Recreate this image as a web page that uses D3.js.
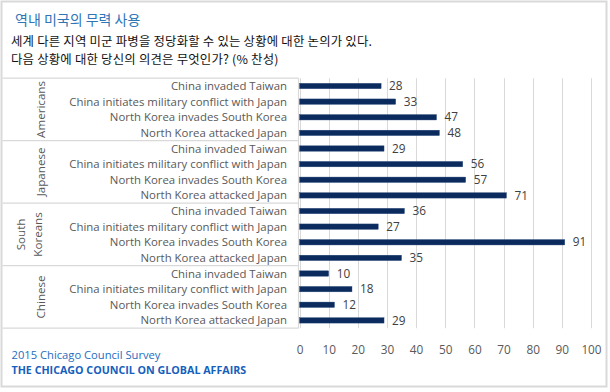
<!DOCTYPE html>
<html><head><meta charset="utf-8">
<script src="https://cdn.jsdelivr.net/npm/d3@7"></script>
<style>
html,body{margin:0;padding:0;background:#fff;}
svg{display:block;}
</style></head>
<body><svg id="c" width="610" height="392"></svg>
<script>
const titleText = "역내 미국의 무력 사용";
const subtitleLines = ["세계 다른 지역 미군 파병을 정당화할 수 있는 상황에 대한 논의가 있다.", "다음 상황에 대한 당신의 의견은 무엇인가? (% 찬성)"];
const groups = ["Americans", "Japanese", "South Koreans", "Chinese"];
const groupLabelLines = [["Americans"], ["Japanese"], ["South", "Koreans"], ["Chinese"]];
const scenarios = ["China invaded Taiwan", "China initiates military conflict with Japan", "North Korea invades South Korea", "North Korea attacked Japan"];
const americans = [28, 33, 47, 48];
const japanese = [29, 56, 57, 71];
const southKoreans = [36, 27, 91, 35];
const chinese = [10, 18, 12, 29];
const tickValues = [0, 10, 20, 30, 40, 50, 60, 70, 80, 90, 100];
const sourceLines = ["2015 Chicago Council Survey", "THE CHICAGO COUNCIL ON GLOBAL AFFAIRS"];

const seriesByGroup = [americans, japanese, southKoreans, chinese];
const rows = [];
groups.forEach((g, gi) => scenarios.forEach((s, si) => rows.push({key: g + "|" + s, group: g, gi, label: s, value: seriesByGroup[gi][si]})));

const svg = d3.select("#c");
const latin = "'Open Sans','Noto Sans',sans-serif";
const kr = "'Noto Sans CJK KR','Noto Sans',sans-serif";

// outer frame
svg.append("rect").attr("x", 1.5).attr("y", 1.5).attr("width", 605).attr("height", 385)
  .attr("fill", "#fff").attr("stroke", "#d9d9d9").attr("stroke-width", 2);

const plotTop = 78.2, plotBottom = 328.2;
const y = d3.scaleBand().domain(rows.map(r => r.key)).range([plotTop, plotBottom]).paddingInner(0).paddingOuter(0);
const x = d3.scaleLinear().domain([0, 100]).range([299.5, 591]);

// gridlines
svg.append("g").selectAll("line").data(tickValues).join("line")
  .attr("x1", d => Math.round(x(d)) + 0.5).attr("x2", d => Math.round(x(d)) + 0.5)
  .attr("y1", plotTop).attr("y2", plotBottom)
  .attr("stroke", "#d9d9d9").attr("stroke-width", 1);

// category table lines
const tableLeft = 2.5, tableRight = 298.5;
const groupBounds = groups.map((g, gi) => {
  const gr = rows.filter(r => r.gi === gi);
  return {gi, y0: y(gr[0].key), y1: y(gr[gr.length - 1].key) + y.bandwidth()};
});
const tl = svg.append("g").attr("stroke", "#d9d9d9").attr("stroke-width", 1.2);
tl.append("line").attr("x1", tableLeft).attr("x2", tableRight).attr("y1", plotTop).attr("y2", plotTop);
groupBounds.forEach(b => tl.append("line").attr("x1", tableLeft).attr("x2", tableRight).attr("y1", b.y1).attr("y2", b.y1));
tl.append("line").attr("x1", tableRight).attr("x2", tableRight).attr("y1", plotTop).attr("y2", plotBottom);

// group labels
groupBounds.forEach(b => {
  const lines = groupLabelLines[b.gi];
  const cy = (b.y0 + b.y1) / 2;
  const xs = lines.length === 1 ? [41] : [21, 38];
  lines.forEach((t, i) => {
    svg.append("text").attr("transform", `translate(${xs[i] + 4},${cy}) rotate(-90)`)
      .attr("text-anchor", "middle").attr("font-family", latin).attr("font-size", 11.6)
      .attr("fill", "#595959").text(t);
  });
});

// category labels
svg.append("g").selectAll("text").data(rows).join("text")
  .attr("x", 287).attr("y", d => y(d.key) + y.bandwidth() / 2 + 4)
  .attr("text-anchor", "end").attr("font-family", latin).attr("font-size", 11.4)
  .attr("fill", "#595959").text(d => d.label);

// bars
const barH = 5.4;
svg.append("g").selectAll("rect").data(rows).join("rect")
  .attr("x", x(0)).attr("y", d => y(d.key) + y.bandwidth() / 2 - barH / 2)
  .attr("width", d => x(d.value) - x(0)).attr("height", barH)
  .attr("fill", "#0b2b5e").attr("stroke", "#2a4a7a").attr("stroke-width", 0.4);

// value labels
svg.append("g").selectAll("text").data(rows).join("text")
  .attr("x", d => x(d.value) + 8).attr("y", d => y(d.key) + y.bandwidth() / 2 + 4.2)
  .attr("font-family", latin).attr("font-size", 11.8).attr("fill", "#404040")
  .text(d => d.value);

// axis
const ax = svg.append("g").attr("transform", `translate(0,${plotBottom})`)
  .call(d3.axisBottom(x).tickValues(tickValues).tickSize(0).tickPadding(17));
ax.select(".domain").remove();
ax.selectAll("text").attr("font-family", latin).attr("font-size", 11.8).attr("fill", "#595959");

// title
svg.append("text").attr("x", 15).attr("y", 24.5).attr("font-family", kr).attr("font-size", 14)
  .attr("fill", "#2e75b6").text(titleText);
const sub = svg.append("text").attr("font-family", kr).attr("font-size", 12.4)
  .attr("letter-spacing", 0.2).attr("fill", "#111");
sub.selectAll("tspan").data(subtitleLines).join("tspan")
  .attr("x", 11).attr("y", (d, i) => 45.5 + i * 18.2).text(d => d);

// source
svg.append("text").attr("x", 11.5).attr("y", 358.5).attr("font-family", latin).attr("font-size", 11.2)
  .attr("fill", "#1f6cc0").text(sourceLines[0]);
svg.append("text").attr("x", 11.5).attr("y", 374).attr("font-family", latin).attr("font-size", 10.7)
  .attr("font-weight", "bold").attr("fill", "#1560bd").text(sourceLines[1]);
</script></body></html>
